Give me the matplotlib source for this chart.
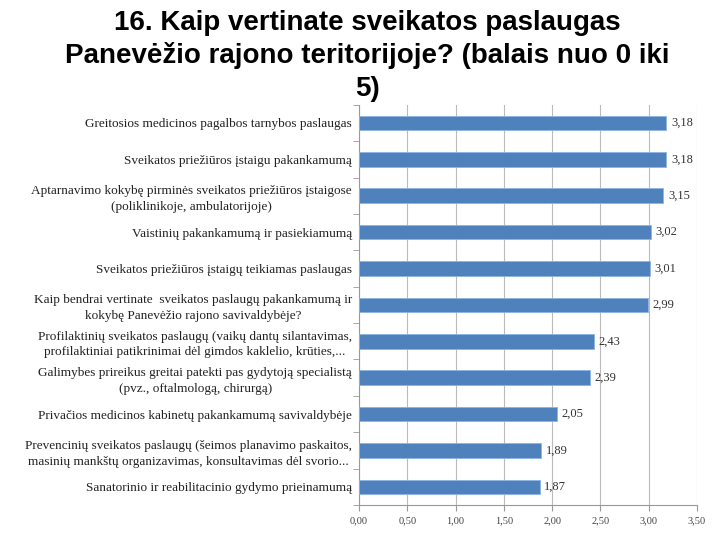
import matplotlib
matplotlib.use('Agg')
import matplotlib.pyplot as plt
import numpy as np

# Duomenys (iš viršaus į apačią)
labels = [
    'Greitosios medicinos pagalbos tarnybos paslaugas',
    'Sveikatos priežiūros įstaigu pakankamumą',
    'Aptarnavimo kokybę pirminės sveikatos priežiūros įstaigose\n(poliklinikoje, ambulatorijoje)',
    'Vaistinių pakankamumą ir pasiekiamumą',
    'Sveikatos priežiūros įstaigų teikiamas paslaugas',
    'Kaip bendrai vertinate  sveikatos paslaugų pakankamumą ir\nkokybę Panevėžio rajono savivaldybėje?',
    'Profilaktinių sveikatos paslaugų (vaikų dantų silantavimas,\nprofilaktiniai patikrinimai dėl gimdos kaklelio, krūties,...',
    'Galimybes prireikus greitai patekti pas gydytoją specialistą\n(pvz., oftalmologą, chirurgą)',
    'Privačios medicinos kabinetų pakankamumą savivaldybėje',
    'Prevencinių sveikatos paslaugų (šeimos planavimo paskaitos,\nmasinių mankštų organizavimas, konsultavimas dėl svorio...',
    'Sanatorinio ir reabilitacinio gydymo prieinamumą',
]
values = [3.18, 3.18, 3.15, 3.02, 3.01, 2.99, 2.43, 2.39, 2.05, 1.89, 1.87]
xticks = [0.0, 0.5, 1.0, 1.5, 2.0, 2.5, 3.0, 3.5]

serif = 'Liberation Serif'

fig = plt.figure(figsize=(7.2, 5.4), dpi=100)
ax = fig.add_axes([0.4986, 0.0648, 0.4694, 0.7412])

y = np.arange(len(values))
ax.barh(y, values, height=0.4, color='#4F81BD', edgecolor='#8EB4E3', linewidth=0.6, zorder=3)
ax.set_ylim(len(values) - 0.5, -0.5)
ax.set_xlim(0, 3.5)

for yi, v in zip(y, values):
    ax.text(v + 0.05, yi, f'{v:.2f}'.replace('.', ','), va='center', ha='left',
            fontsize=9, family=serif, color='#333333')

ax.set_xticks(xticks)
ax.set_xticklabels([f'{t:.2f}'.replace('.', ',') for t in xticks], fontsize=7.5,
                   family=serif, color='#444444')
ax.set_yticks(y)
ax.set_yticklabels(labels, fontsize=9.5, family=serif, color='#222222',
                   multialignment='center', linespacing=1.4)
ax.tick_params(axis='y', length=0, pad=5)
ax.set_yticks(np.arange(-0.5, len(values)), minor=True)
ax.tick_params(axis='y', which='minor', length=4, color='#999999', direction='out')
ax.tick_params(axis='x', length=4, color='#999999', direction='out', pad=4)

ax.grid(axis='x', color='#BBBBBB', linewidth=0.8, zorder=0)
for s in ['top', 'right']:
    ax.spines[s].set_visible(False)
for s in ['left', 'bottom']:
    ax.spines[s].set_color('#999999')
    ax.spines[s].set_linewidth(0.8)

fig.text(0.51, 0.982, '16. Kaip vertinate sveikatos paslaugas\nPanevėžio rajono teritorijoje? (balais nuo 0 iki\n5)',
         ha='center', va='top', fontsize=20, fontweight='bold', family='Liberation Sans',
         linespacing=1.32)

fig.savefig('out.png', dpi=100)
